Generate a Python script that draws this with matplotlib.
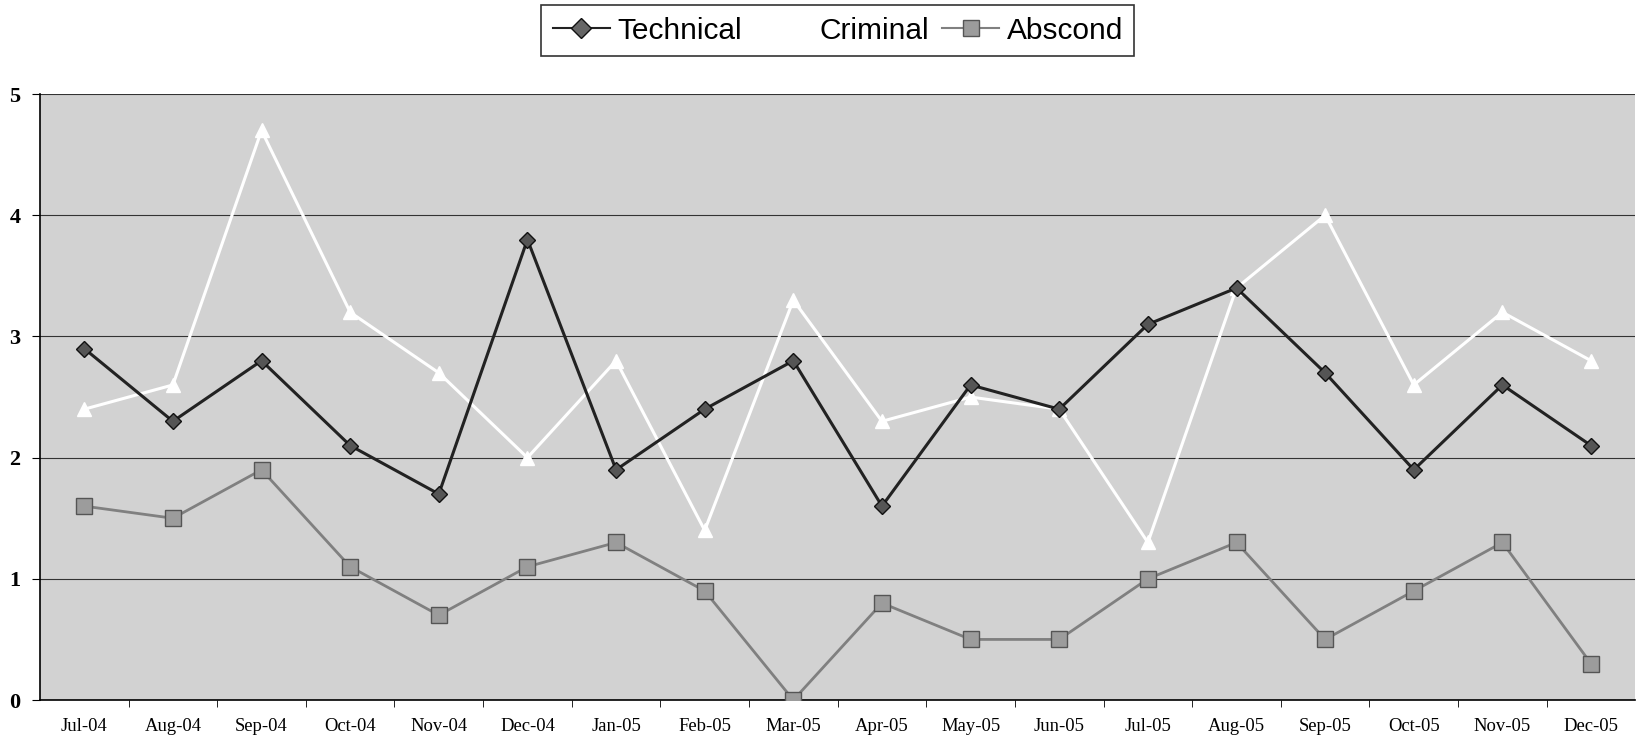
import matplotlib; matplotlib.use("Agg")
import matplotlib.pyplot as plt
from matplotlib.lines import Line2D

months = ["Jul-04", "Aug-04", "Sep-04", "Oct-04", "Nov-04", "Dec-04", "Jan-05", "Feb-05", "Mar-05",
          "Apr-05", "May-05", "Jun-05", "Jul-05", "Aug-05", "Sep-05", "Oct-05", "Nov-05", "Dec-05"]
technical = [2.9, 2.3, 2.8, 2.1, 1.7, 3.8, 1.9, 2.4, 2.8, 1.6, 2.6, 2.4, 3.1, 3.4, 2.7, 1.9, 2.6, 2.1]
criminal = [2.4, 2.6, 4.7, 3.2, 2.7, 2.0, 2.8, 1.4, 3.3, 2.3, 2.5, 2.4, 1.3, 3.4, 4.0, 2.6, 3.2, 2.8]
abscond = [1.6, 1.5, 1.9, 1.1, 0.7, 1.1, 1.3, 0.9, 0.0, 0.8, 0.5, 0.5, 1.0, 1.3, 0.5, 0.9, 1.3, 0.3]
yticks = [0, 1, 2, 3, 4, 5]

BG = "#d2d2d2"
fig = plt.figure(figsize=(16.37, 7.41), dpi=100)
ax = fig.add_axes([0.0244, 0.0553, 0.9746, 0.8177])
ax.set_facecolor(BG)
x = list(range(len(months)))

ax.plot(x, technical, color="#222222", lw=2.2, marker="D", ms=8, mfc="#555555", mec="#111111", mew=1, zorder=4)
ax.plot(x, criminal, color="white", lw=2.2, marker="^", ms=10, mfc="white", mec="white", zorder=3)
ax.plot(x, abscond, color="#808080", lw=2.0, marker="s", ms=12, mfc="#9c9c9c", mec="#555555", mew=1, zorder=3)

ax.set_xlim(-0.5, len(months) - 0.5)
ax.set_ylim(0, 5)
ax.set_yticks(yticks)
ax.set_yticklabels([str(t) for t in yticks], family="Liberation Serif", fontweight="bold", fontsize=16)
ax.yaxis.grid(True, color="#333333", lw=0.8)
ax.set_axisbelow(True)

ax.set_xticks(x)
ax.set_xticklabels(months, family="Liberation Serif", fontsize=13.4)
ax.tick_params(axis="x", which="major", length=0, pad=13)
ax.set_xticks([i + 0.5 for i in x[:-1]], minor=True)
ax.tick_params(axis="x", which="minor", length=5, direction="out", color="black")
ax.tick_params(axis="y", length=6, direction="out", pad=8)

for s in ["top", "right"]:
    ax.spines[s].set_visible(False)
ax.spines["left"].set_color("black")
ax.spines["bottom"].set_color("black")
ax.spines["left"].set_linewidth(1.2)
ax.spines["bottom"].set_linewidth(1.2)

handles = [
    Line2D([], [], color="#222222", lw=1.5, marker="D", ms=10, mfc="#666666", mec="#111111"),
    Line2D([], [], color="white", lw=1.5, marker="^", ms=10, mfc="white", mec="white"),
    Line2D([], [], color="#808080", lw=1.5, marker="s", ms=11, mfc="#9c9c9c", mec="#555555"),
]
leg = fig.legend(handles, ["Technical", "Criminal", "Abscond"], loc="upper center",
                 bbox_to_anchor=(0.5118, 0.993), ncol=3, frameon=True, fancybox=False,
                 prop={"family": "Liberation Sans", "size": 21.5}, handlelength=1.9,
                 handletextpad=0.25, columnspacing=0.45, borderpad=0.38, borderaxespad=0)
leg.get_frame().set_edgecolor("black")
leg.get_frame().set_linewidth(1.2)

fig.savefig("out.png", dpi=100)
